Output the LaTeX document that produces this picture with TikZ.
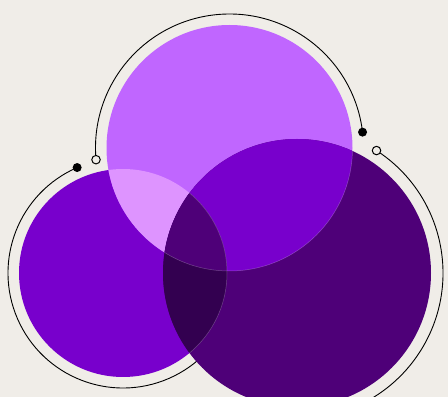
\documentclass[tikz,border=0pt]{standalone}
\begin{document}
\begin{tikzpicture}[x=1pt,y=1pt,
  ring/.style={draw=black,line width=0.9pt},
  filleddot/.style={circle,fill=black,inner sep=0pt,minimum size=9pt},
  opendot/.style={circle,draw=black,fill=bg,line width=1pt,inner sep=0pt,minimum size=8.5pt},
  seam/.style={draw=white,draw opacity=0.25,line width=0.5pt}]
\definecolor{bg}{RGB}{240,237,232}
\definecolor{cT}{RGB}{192,102,255}
\definecolor{cL}{RGB}{120,0,204}
\definecolor{cR}{RGB}{78,0,120}
\definecolor{cTL}{RGB}{222,148,255}
\definecolor{cLR}{RGB}{51,0,80}
\useasboundingbox (0,0) rectangle (448,397);
\clip (0,0) rectangle (448,397);
\fill[bg] (0,0) rectangle (448,397);
\coordinate (T) at (229.5,249);
\coordinate (L) at (123,124);
\coordinate (R) at (297,124);
% rings
\draw[ring] (T) ++(185:134) coordinate (te1) arc[start angle=185,end angle=6.8,radius=134] coordinate (te2);
\draw[ring] (L) ++(113.5:115) coordinate (le1) arc[start angle=113.5,end angle=340,radius=115];
\draw[ring] (R) ++(57:146) coordinate (re1) arc[start angle=57,end angle=-100,radius=146];
% circles
\fill[cL] (L) circle[radius=104];
\fill[cT] (T) circle[radius=123];
\fill[cR] (R) circle[radius=134];
\begin{scope}
  \clip (L) circle[radius=104];
  \fill[cTL] (T) circle[radius=123];
\end{scope}
\begin{scope}
  \clip (R) circle[radius=134];
  \fill[cL] (T) circle[radius=123];
  \fill[cLR] (L) circle[radius=104];
  \begin{scope}
    \clip (L) circle[radius=104];
    \fill[cR] (T) circle[radius=123];
  \end{scope}
  \draw[seam] (T) circle[radius=123];
  \draw[seam] (L) circle[radius=104];
\end{scope}
% end dots
\node[opendot] (d1) at (te1) {};
\node[filleddot] (d2) at (te2) {};
\node[filleddot] (d3) at (le1) {};
\node[opendot] (d4) at (re1) {};
\end{tikzpicture}
\end{document}
